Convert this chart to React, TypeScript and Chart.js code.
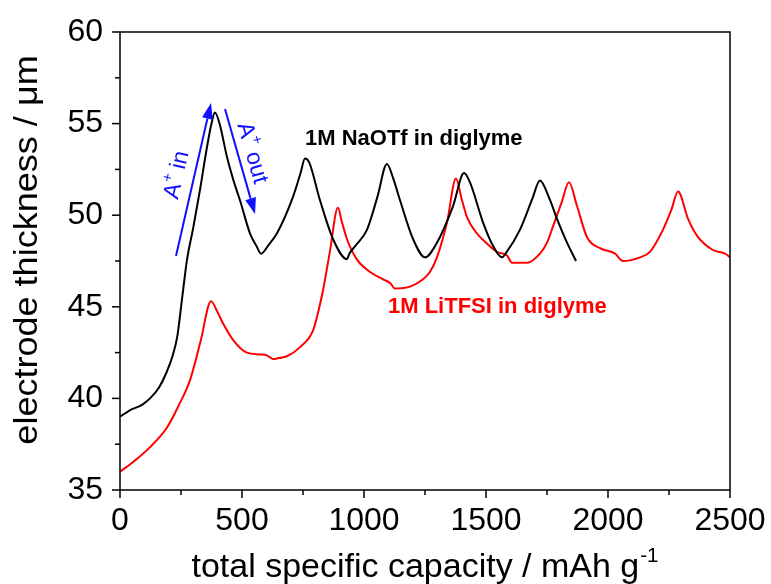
import React, { useEffect, useRef } from "react";
import { Chart, registerables } from "chart.js";

Chart.register(...registerables);

// ---- data ----
const naotfX = [0, 40, 90, 123, 160, 190, 215, 235, 254, 275, 300, 328, 355, 375, 389, 410, 438, 465, 492, 533, 560, 578, 610, 643, 709, 740, 758, 775, 820, 873, 930, 940, 963, 1012, 1055, 1094, 1120, 1148, 1201, 1250, 1299, 1365, 1410, 1434, 1488, 1530, 1566, 1580, 1639, 1690, 1721, 1760, 1791, 1832, 1869];
const naotfY = [39.0, 39.35, 39.65, 40.0, 40.6, 41.4, 42.3, 43.4, 45.4, 47.6, 49.3, 51.4, 53.6, 55.0, 55.6, 54.9, 53.2, 51.9, 50.8, 49.0, 48.3, 47.9, 48.4, 49.0, 51.0, 52.3, 53.1, 52.9, 50.8, 48.7, 47.6, 47.9, 48.3, 49.2, 51.0, 52.8, 52.0, 50.8, 48.7, 47.7, 48.5, 50.5, 52.3, 51.8, 49.6, 48.3, 47.7, 47.9, 49.2, 50.9, 51.9, 50.9, 49.8, 48.5, 47.5];

const litfsiX = [0, 60, 120, 192, 240, 287, 330, 373, 400, 422, 463, 520, 574, 602, 627, 650, 684, 738, 791, 812, 832, 860, 893, 910, 930, 970, 1025, 1078, 1107, 1127, 1189, 1242, 1270, 1299, 1340, 1377, 1400, 1422, 1463, 1500, 1545, 1586, 1607, 1668, 1721, 1750, 1775, 1810, 1840, 1873, 1914, 1967, 2029, 2061, 2131, 2172, 2225, 2260, 2287, 2328, 2369, 2430, 2480, 2500];
const litfsiY = [36.0, 36.6, 37.3, 38.4, 39.6, 41.0, 43.1, 45.3, 44.7, 44.1, 43.2, 42.5, 42.4, 42.35, 42.15, 42.2, 42.3, 42.8, 43.7, 44.7, 45.9, 48.0, 50.4, 49.6, 48.7, 47.6, 46.9, 46.5, 46.3, 46.0, 46.1, 46.5, 46.9, 47.7, 49.6, 52.0, 50.9, 49.9, 49.0, 48.5, 48.0, 47.8, 47.4, 47.4, 47.9, 48.5, 49.4, 50.7, 51.8, 50.5, 48.8, 48.2, 47.9, 47.5, 47.7, 48.0, 49.2, 50.3, 51.3, 49.8, 48.8, 48.1, 47.9, 47.7];

const xMajorTicks = [0, 500, 1000, 1500, 2000, 2500];
const xMinorTicks = [250, 750, 1250, 1750, 2250];
const yMajorTicks = [35, 40, 45, 50, 55, 60];
const yMinorTicks = [37.5, 42.5, 47.5, 52.5, 57.5];

const seriesLabels = ["1M NaOTf in diglyme", "1M LiTFSI in diglyme"];
const xTitle = "total specific capacity / mAh g";
const xTitleSup = "-1";
const yTitle = "electrode thickness / \u03bcm";

const FONT = "'Liberation Sans', Arial, sans-serif";
const BLUE = "#1010ff";

function toPoints(xs: number[], ys: number[]) {
  return xs.map((x, i) => ({ x, y: ys[i] }));
}

const framePlugin = {
  id: "frame",
  afterDraw(chart: any) {
    const { ctx, chartArea: a, scales } = chart;
    const x = scales.x;
    const y = scales.y;
    ctx.save();
    ctx.strokeStyle = "#000";
    ctx.lineWidth = 1.5;
    ctx.beginPath();
    ctx.rect(a.left, a.top, a.right - a.left, a.bottom - a.top);
    ctx.stroke();
    const tick = (x1: number, y1: number, x2: number, y2: number) => {
      ctx.beginPath();
      ctx.moveTo(x1, y1);
      ctx.lineTo(x2, y2);
      ctx.stroke();
    };
    xMajorTicks.forEach((v) => {
      const p = x.getPixelForValue(v);
      tick(p, a.bottom, p, a.bottom + 8);
    });
    xMinorTicks.forEach((v) => {
      const p = x.getPixelForValue(v);
      tick(p, a.bottom, p, a.bottom + 5);
    });
    yMajorTicks.forEach((v) => {
      const p = y.getPixelForValue(v);
      tick(a.left - 8, p, a.left, p);
    });
    yMinorTicks.forEach((v) => {
      const p = y.getPixelForValue(v);
      tick(a.left - 5, p, a.left, p);
    });

    // x title with superscript
    ctx.fillStyle = "#000";
    ctx.font = `33px ${FONT}`;
    ctx.textBaseline = "alphabetic";
    const w1 = ctx.measureText(xTitle).width;
    ctx.font = `20px ${FONT}`;
    const w2 = ctx.measureText(xTitleSup).width;
    const sx = 1.03;
    const cx = (a.left + a.right) / 2;
    ctx.save();
    ctx.translate(cx, 577);
    ctx.scale(sx, 1);
    const startX = -(w1 + w2 + 1) / 2;
    ctx.font = `33px ${FONT}`;
    ctx.textAlign = "left";
    ctx.fillText(xTitle, startX, 0);
    ctx.font = `20px ${FONT}`;
    ctx.fillText(xTitleSup, startX + w1 + 1, -15);
    ctx.restore();

    // y title
    ctx.save();
    ctx.translate(28, (a.top + a.bottom) / 2 - 11);
    ctx.rotate(-Math.PI / 2);
    ctx.scale(1.06, 1);
    ctx.font = `34px ${FONT}`;
    ctx.textAlign = "center";
    ctx.textBaseline = "middle";
    ctx.fillText(yTitle, 0, 0);
    ctx.restore();
    ctx.restore();
  },
};

function drawArrow(ctx: CanvasRenderingContext2D, x1: number, y1: number, x2: number, y2: number) {
  const ang = Math.atan2(y2 - y1, x2 - x1);
  const hl = 16;
  const hw = 5.5;
  const bx = x2 - hl * Math.cos(ang);
  const by = y2 - hl * Math.sin(ang);
  ctx.beginPath();
  ctx.moveTo(x1, y1);
  ctx.lineTo(bx, by);
  ctx.stroke();
  ctx.beginPath();
  ctx.moveTo(x2, y2);
  ctx.lineTo(bx + hw * Math.sin(ang), by - hw * Math.cos(ang));
  ctx.lineTo(bx - hw * Math.sin(ang), by + hw * Math.cos(ang));
  ctx.closePath();
  ctx.fill();
}

function drawIonLabel(ctx: CanvasRenderingContext2D, cx: number, cy: number, angle: number, rest: string) {
  ctx.save();
  ctx.translate(cx, cy);
  ctx.rotate(angle);
  ctx.font = `23px ${FONT}`;
  const wA = ctx.measureText("A").width;
  const wR = ctx.measureText(rest).width;
  ctx.font = `15px ${FONT}`;
  const wP = ctx.measureText("+").width;
  const total = wA + wP + wR;
  let x = -total / 2;
  ctx.textAlign = "left";
  ctx.textBaseline = "middle";
  ctx.font = `23px ${FONT}`;
  ctx.fillText("A", x, 0);
  x += wA;
  ctx.font = `15px ${FONT}`;
  ctx.fillText("+", x, -8);
  x += wP;
  ctx.font = `23px ${FONT}`;
  ctx.fillText(rest, x, 0);
  ctx.restore();
}

const annotationPlugin = {
  id: "annotations",
  afterDatasetsDraw(chart: any) {
    const { ctx } = chart;
    ctx.save();
    ctx.textAlign = "left";
    ctx.textBaseline = "middle";
    ctx.font = `bold 22px ${FONT}`;
    ctx.fillStyle = "#000";
    ctx.fillText(seriesLabels[0], 305, 139);
    ctx.fillStyle = "#ff0000";
    ctx.fillText(seriesLabels[1], 388, 307);

    ctx.strokeStyle = BLUE;
    ctx.fillStyle = BLUE;
    ctx.lineWidth = 2;
    drawArrow(ctx, 176, 256, 211, 103);
    drawArrow(ctx, 225, 109, 255, 214);
    drawIonLabel(ctx, 177, 175, Math.atan2(-151, 35), " in");
    drawIonLabel(ctx, 252, 153, Math.atan2(104, 30), " out");
    ctx.restore();
  },
};

export default function App() {
  const ref = useRef<HTMLCanvasElement | null>(null);
  useEffect(() => {
    if (!ref.current) return;
    const chart = new Chart(ref.current, {
      type: "scatter",
      data: {
        datasets: [
          {
            label: seriesLabels[0],
            data: toPoints(naotfX, naotfY),
            showLine: true,
            borderColor: "#000000",
            borderWidth: 2,
            pointRadius: 0,
            cubicInterpolationMode: "monotone",
          },
          {
            label: seriesLabels[1],
            data: toPoints(litfsiX, litfsiY),
            showLine: true,
            borderColor: "#ff0000",
            borderWidth: 2,
            pointRadius: 0,
            cubicInterpolationMode: "monotone",
          },
        ],
      },
      options: {
        animation: false,
        responsive: false,
        events: [],
        layout: { padding: { top: 32, right: 41, left: 0, bottom: 0 } },
        plugins: { legend: { display: false }, tooltip: { enabled: false } },
        scales: {
          x: {
            type: "linear",
            min: 0,
            max: 2500,
            afterFit: (s: any) => {
              s.height = 94;
              s.paddingLeft = 0;
              s.paddingRight = 0;
            },
            afterBuildTicks: (s: any) => {
              s.ticks = xMajorTicks.map((v) => ({ value: v }));
            },
            grid: { display: false, drawTicks: false },
            border: { display: false },
            ticks: {
              padding: 12,
              color: "#000",
              font: { family: FONT, size: 32 },
              maxRotation: 0,
              callback: (v: any) => String(v),
            },
          },
          y: {
            type: "linear",
            min: 35,
            max: 60,
            afterFit: (s: any) => {
              s.width = 120;
              s.paddingTop = 0;
              s.paddingBottom = 0;
            },
            afterBuildTicks: (s: any) => {
              s.ticks = yMajorTicks.map((v) => ({ value: v }));
            },
            grid: { display: false, drawTicks: false },
            border: { display: false },
            ticks: {
              padding: 17,
              color: "#000",
              font: { family: FONT, size: 32 },
              callback: (v: any) => String(v),
            },
          },
        },
      },
      plugins: [framePlugin, annotationPlugin],
    });
    return () => chart.destroy();
  }, []);
  return (
    <div style={{ position: "absolute", left: 0, top: 0, width: 771, height: 584, background: "#fff" }}>
      <canvas ref={ref} width={771} height={584} style={{ display: "block" }} />
    </div>
  );
}
